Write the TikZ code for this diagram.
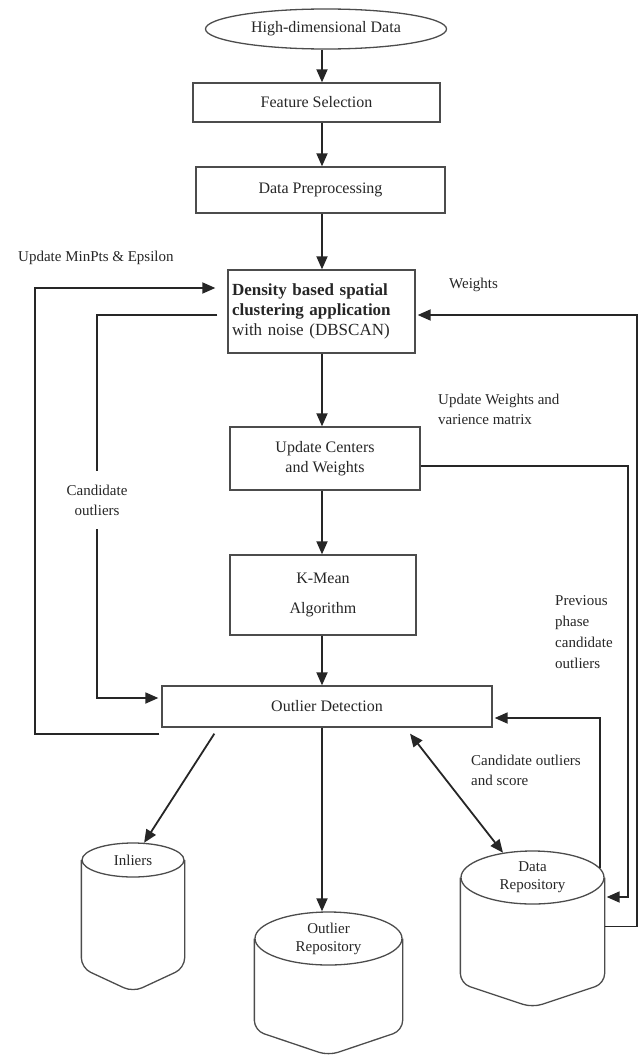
\documentclass[tikz,border=0pt]{standalone}
\usepackage{fontspec}
\setmainfont{Liberation Serif}
\usepackage{tikz}
\usetikzlibrary{arrows.meta,positioning,calc,shapes.geometric}

\begin{document}
\begin{tikzpicture}[x=1pt,y=-1pt,
  box/.style={draw=black!70,line width=1.3pt,inner sep=0pt,align=center,text=black!85,font=\fontsize{16}{20}\selectfont},
  oval/.style={ellipse,draw=black!70,line width=1.3pt,inner sep=0pt,align=center,text=black!85,font=\fontsize{16}{20}\selectfont},
  drum/.style={draw=black!70,line width=1.3pt,rounded corners=10pt},
  lbl/.style={align=left,inner sep=0pt,text=black!85,font=\fontsize{15}{20}\selectfont},
  arr/.style={-{Triangle[length=13pt,width=11pt]},line width=1.8pt,draw=black!85}]
\useasboundingbox (0,0) rectangle (643,1057);
\coordinate (ax) at (322,0);
\node[oval,minimum width=241pt,minimum height=40pt] (hd) at (326,29) {High-dimensional Data};
\node[box,minimum width=247pt,minimum height=39pt] (fs) at (316.5,102.5) {Feature Selection};
\node[box,minimum width=249pt,minimum height=46pt] (dp) at (320.5,190) {Data Preprocessing};
\node[box,text width=179pt,inner sep=4pt,minimum height=83pt,align=left,font=\fontsize{17}{20}\selectfont] (db) at (321.5,311.5) {\textbf{Density based spatial}\\\textbf{clustering application}\\with noise (DBSCAN)\\[-12pt]};
\node[box,minimum width=190pt,minimum height=63pt] (uc) at (325,458.5) {Update Centers\\and Weights};
\node[box,minimum width=186pt,minimum height=80pt] (km) at (323,595) {K-Mean\\[10pt]Algorithm};
\node[box,minimum width=330pt,minimum height=41pt] (od) at (327,706.5) {Outlier Detection};
\node[oval,minimum width=102pt,minimum height=34pt,font=\fontsize{15}{18}\selectfont] (inl) at (133,860) {Inliers};
\draw[drum] (inl.west) -- ++(0,108) -- ($(inl.center)+(0,132)$) -- ($(inl.east)+(0,108)$) -- (inl.east);
\node[oval,minimum width=147pt,minimum height=53pt,font=\fontsize{15}{18}\selectfont] (orep) at (328.5,938.5) {Outlier\\Repository};
\draw[drum] (orep.west) -- ++(0,92) -- ($(orep.center)+(0,117)$) -- ($(orep.east)+(0,92)$) -- (orep.east);
\node[oval,minimum width=143pt,minimum height=53pt,font=\fontsize{15}{18}\selectfont] (drep) at (532.5,877.5) {Data\\Repository};
\draw[drum] (drep.west) -- ++(0,106) -- ($(drep.center)+(0,130)$) -- ($(drep.east)+(0,106)$) -- (drep.east);
\coordinate (lx) at (35,288);
\coordinate (cx) at (97,500);
\coordinate (rx) at (637,315);
\coordinate (mx) at (628,897);
\draw[arr] (ax |- hd.south) -- (ax |- fs.north);
\draw[arr] (ax |- fs.south) -- (ax |- dp.north);
\draw[arr] (ax |- dp.south) -- (ax |- db.north);
\draw[arr] (ax |- db.south) -- (ax |- uc.north);
\draw[arr] (ax |- uc.south) -- (ax |- km.north);
\draw[arr] (ax |- km.south) -- (ax |- od.north);
\draw[arr,shorten >=12pt] ($(od.south west)+(-2,6)$) -| (lx) -- (lx -| db.west);
\draw[arr,shorten >=3pt] ($(db.west)+(-10,3.5)$) -| (cx) |- ($(od.west)+(0,-8.5)$);
\node[lbl,align=center,fill=white,inner ysep=14pt,inner xsep=2pt] (co) at (cx) {Candidate\\outliers};
\draw[arr,shorten >=2pt] ($(drep.east)+(0,49)$) -| (rx) -- (rx -| db.east);
\draw[arr,shorten >=2pt] ($(uc.east)+(0,7.5)$) -| (mx) -- (mx -| drep.east);
\draw[arr,shorten >=2pt] (drep.8) |- ($(od.east)+(0,11.5)$);
\draw[arr] ($(od.south west)+(53,6)$) -- (inl);
\draw[arr] (ax |- od.south) -- (ax |- orep.north);
\draw[arr,{Triangle[length=13pt,width=11pt]}-{Triangle[length=13pt,width=11pt]}] ($(od.south)+(83,6)$) -- (drep.140);
\node[lbl,anchor=base west] (mp) at (18,261) {Update MinPts \& Epsilon};
\node[lbl,anchor=base west] (wt) at (449,288) {Weights};
\node[lbl,anchor=north west] (uw) at (438,394) {Update Weights and\\varience matrix};
\node[lbl,anchor=north west,font=\fontsize{15}{21}\selectfont] (pp) at (555,595) {Previous\\phase\\candidate\\outliers};
\node[lbl,anchor=north west] (cs) at (471,755) {Candidate outliers\\and score};
\end{tikzpicture}
\end{document}
